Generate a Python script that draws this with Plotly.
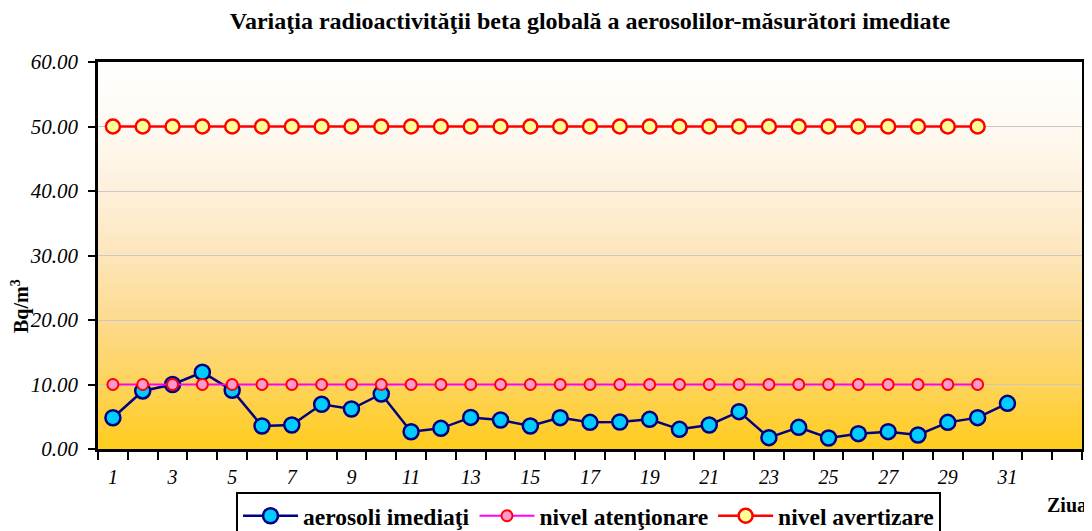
import plotly.graph_objects as go

days = list(range(1, 32))
aerosoli = [4.85, 9.0, 10.0, 11.9, 9.1, 3.57, 3.72, 6.93, 6.2, 8.53,
            2.68, 3.2, 4.9, 4.5, 3.57, 4.86, 4.13, 4.19, 4.6, 3.05,
            3.72, 5.79, 1.76, 3.36, 1.7, 2.38, 2.69, 2.17, 4.13, 4.86, 7.08]
level_days = list(range(1, 31))
atentionare = [10.0] * 30
avertizare = [50.0] * 30
xtick_vals = list(range(1, 32, 2))
xtick_text = [str(v) for v in xtick_vals]
ytick_vals = [0, 10, 20, 30, 40, 50, 60]

FONT = "Liberation Serif, Times New Roman, serif"

fig = go.Figure()
fig.add_trace(go.Scatter(
    x=days, y=aerosoli, name="<b>aerosoli imediaţi</b>", mode="lines+markers",
    line=dict(color="#000080", width=2.5),
    marker=dict(size=15, color="#00CCFF", line=dict(color="#000080", width=2.5))))
fig.add_trace(go.Scatter(
    x=level_days, y=atentionare, name="<b>nivel atenţionare</b>", mode="lines+markers",
    line=dict(color="#FF00FF", width=2),
    marker=dict(size=11, color="#FF99CC", line=dict(color="#FF0000", width=2))))
fig.add_trace(go.Scatter(
    x=level_days, y=avertizare, name="<b>nivel avertizare</b>", mode="lines+markers",
    line=dict(color="#FF0000", width=2.5),
    marker=dict(size=14, color="#FFFF99", line=dict(color="#FF0000", width=2.5))))

stops = [(0.0, (255, 255, 255)), (0.17, (254, 250, 242)), (0.33, (253, 240, 220)),
         (0.5, (253, 230, 188)), (0.67, (253, 218, 142)), (0.83, (254, 212, 92)),
         (1.0, (255, 204, 30))]

def col(t):
    for (t0, c0), (t1, c1) in zip(stops[:-1], stops[1:]):
        if t0 <= t <= t1:
            f = (t - t0) / (t1 - t0)
            return "rgb(%d,%d,%d)" % tuple(round(a + (b - a) * f) for a, b in zip(c0, c1))
    return "rgb(255,204,30)"

N = 90
shapes = []
for i in range(N):
    t = (i + 0.5) / N
    shapes.append(dict(type="rect", xref="x domain", yref="y domain",
                       x0=0, x1=1, y0=1 - (i + 1) / N, y1=1 - i / N + 0.002,
                       fillcolor=col(t), line=dict(width=0), layer="below"))

# page body has an 8px default margin: figure is sized/offset to compensate
OFF = 8
W, H = 1092 - OFF, 531 - OFF
pw, ph = 984, 387
fig.update_layout(
    width=W, height=H,
    margin=dict(l=98 - OFF, r=10, t=62 - OFF, b=82, autoexpand=False),
    paper_bgcolor="white", plot_bgcolor="rgba(0,0,0,0)",
    shapes=shapes,
    font=dict(family=FONT, color="black", size=20),
    title=dict(text="<b>Variaţia radioactivităţii beta globală a aerosolilor-măsurători imediate</b>",
               x=(590 - OFF) / W, xanchor="center", y=1 - (21 - OFF) / H, yanchor="middle",
               yref="container", font=dict(size=24, family=FONT, color="black")),
    xaxis=dict(range=[0.5, 33.5], tickmode="array", tickvals=xtick_vals, ticktext=xtick_text,
               ticks="outside", ticklen=8, tickcolor="rgba(0,0,0,0)", automargin=False,
               tickfont=dict(size=20, family=FONT, color="black", style="italic"),
               showgrid=False, zeroline=False, showline=True, linecolor="black",
               linewidth=2.5, mirror=True,
               minor=dict(tick0=0.5, dtick=1, ticks="outside", ticklen=8,
                          tickcolor="black", tickwidth=2, showgrid=False)),
    yaxis=dict(range=[0, 60], tickmode="array", tickvals=ytick_vals,
               ticktext=["%.2f" % v for v in ytick_vals], automargin=False,
               ticks="outside", ticklen=7, tickwidth=2, tickcolor="black",
               ticklabelstandoff=6,
               tickfont=dict(size=21, family=FONT, color="black", style="italic"),
               showgrid=True, gridcolor="#C8C8C8", gridwidth=1, zeroline=False,
               showline=True, linecolor="black", linewidth=2.5, mirror=True),
    legend=dict(orientation="h", x=0.4985, xanchor="center", y=-43 / ph, yanchor="top",
                bordercolor="black", borderwidth=2, bgcolor="white", itemwidth=55,
                font=dict(size=23.5, family=FONT, color="black")),
    showlegend=True,
    annotations=[
        dict(text="<b>Bq/m<sup>3</sup></b>", xref="paper", yref="paper",
             x=(20 - 98) / pw, y=(449 - 306) / ph, xanchor="center", yanchor="middle",
             showarrow=False, textangle=-90,
             font=dict(size=20, family=FONT, color="black")),
        dict(text="<b>Ziua</b>", xref="paper", yref="paper",
             x=(1067 - 98) / pw, y=(449 - 505) / ph, xanchor="center", yanchor="middle",
             showarrow=False, font=dict(size=20, family=FONT, color="black")),
    ],
)

fig.write_html("out.html")
